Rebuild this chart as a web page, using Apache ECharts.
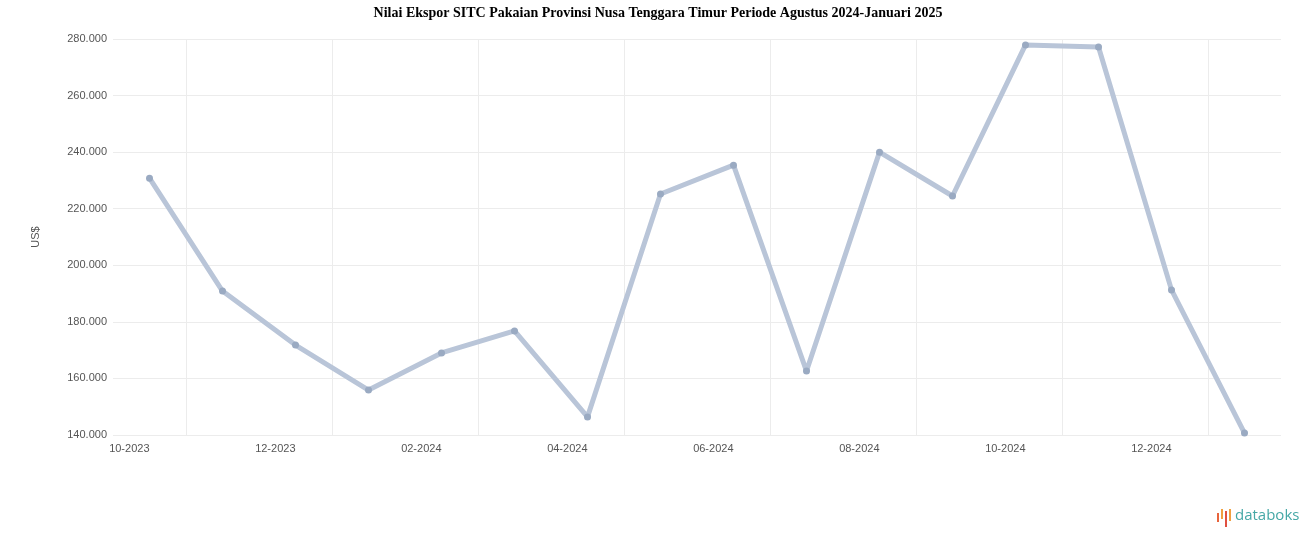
<!DOCTYPE html>
<html>
<head>
<meta charset="utf-8">
<script src="https://cdn.jsdelivr.net/npm/echarts@6/dist/echarts.min.js"></script>
<style>html,body{margin:0;padding:0;background:#fff;}#c{width:1316px;height:547px;}</style>
</head>
<body>
<div id="c"></div>
<script>
const titleText = 'Nilai Ekspor SITC Pakaian Provinsi Nusa Tenggara Timur Periode Agustus 2024-Januari 2025';
const categories = ['10-2023','11-2023','12-2023','01-2024','02-2024','03-2024','04-2024','05-2024','06-2024','07-2024','08-2024','09-2024','10-2024','11-2024','12-2024','01-2025'];
const values = [230800, 190900, 171800, 155900, 169000, 176800, 146400, 225200, 235400, 162600, 240000, 224500, 277900, 277200, 191300, 140700];
const yTicks = {min: 140000, max: 280000, interval: 20000};
const yName = 'US$';

function fmt(v){ return String(v).replace(/\B(?=(\d{3})+(?!\d))/g, '.'); }

const chart = echarts.init(document.getElementById('c'));
chart.setOption({
  animation: false,
  backgroundColor: '#fff',
  title: {
    text: titleText, left: 'center', top: 1,
    textStyle: {fontFamily: 'Liberation Serif', fontWeight: 'bold', fontSize: 14, color: '#000'}
  },
  grid: {left: 113, right: 35, top: 39, bottom: 112},
  xAxis: {
    type: 'category', data: categories, boundaryGap: true,
    axisLine: {show: false}, axisTick: {show: false},
    axisLabel: {
      interval: function(i){ return i % 2 === 0; },
      align: 'right', margin: 8, color: '#555', fontSize: 11, fontFamily: 'Liberation Sans'
    },
    splitLine: {show: true, showMinLine: true, showMaxLine: false,
      interval: function(i){ return i % 2 === 1; }, lineStyle: {color: '#ececec', width: 1}}
  },
  yAxis: {
    type: 'value', min: yTicks.min, max: yTicks.max, interval: yTicks.interval,
    name: yName, nameLocation: 'middle', nameGap: 72, nameRotate: 90,
    nameTextStyle: {color: '#555', fontSize: 11, fontFamily: 'Liberation Sans'},
    axisLine: {show: false}, axisTick: {show: false},
    axisLabel: {color: '#555', fontSize: 11, fontFamily: 'Liberation Sans', margin: 6, formatter: fmt},
    splitLine: {lineStyle: {color: '#ececec', width: 1}}
  },
  series: [{
    type: 'line', data: values,
    lineStyle: {color: '#b9c5d8', width: 5},
    symbol: 'circle', symbolSize: 7,
    itemStyle: {color: '#9aaac2'}
  }],
  graphic: [
    {type: 'rect', left: 1217, top: 513, shape: {width: 2, height: 9}, style: {fill: '#e8643c'}},
    {type: 'rect', left: 1221, top: 509, shape: {width: 2, height: 10}, style: {fill: '#f0a040'}},
    {type: 'rect', left: 1225, top: 511, shape: {width: 2, height: 16}, style: {fill: '#e05040'}},
    {type: 'rect', left: 1229, top: 509, shape: {width: 2, height: 12}, style: {fill: '#f0a040'}},
    {type: 'text', left: 1235, top: 508, style: {text: 'databoks', fill: '#45a8a6', font: '15px "Open Sans"'}}
  ]
});
</script>
</body>
</html>
